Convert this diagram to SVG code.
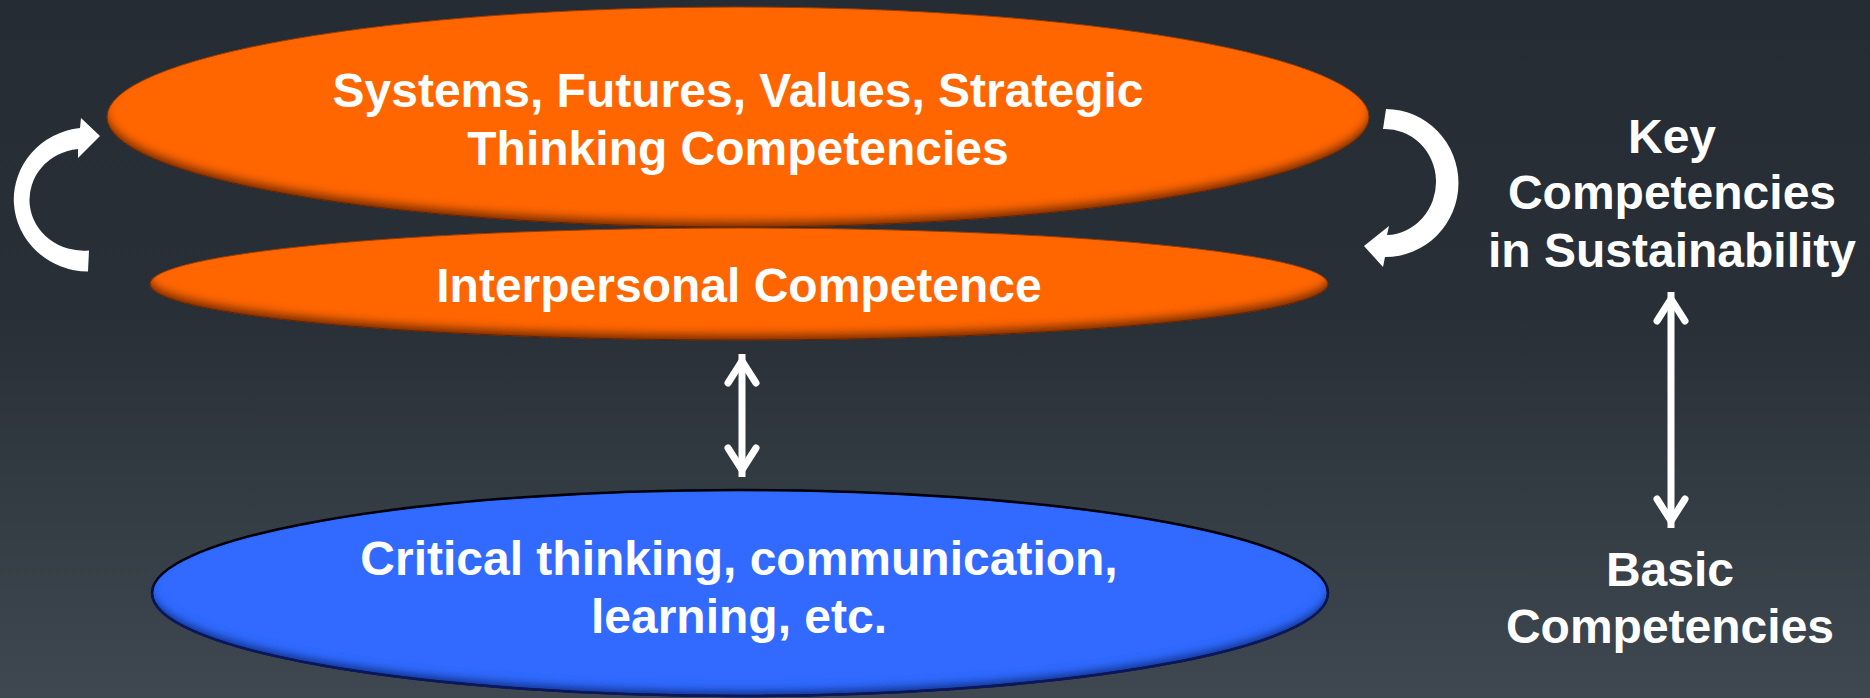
<svg xmlns="http://www.w3.org/2000/svg" width="1870" height="698" viewBox="0 0 1870 698">
  <defs>
    <linearGradient id="bg" x1="0" y1="0" x2="0" y2="1">
      <stop offset="0" stop-color="#252c34"/>
      <stop offset="0.45" stop-color="#282f37"/>
      <stop offset="1" stop-color="#3f4850"/>
    </linearGradient>
    <!-- soft inner shade along the lower rim of each ellipse -->
    <filter id="shadeOrange" x="-5%" y="-10%" width="110%" height="120%">
      <feGaussianBlur in="SourceAlpha" stdDeviation="4" result="b"/>
      <feOffset in="b" dy="-7" result="o"/>
      <feComposite in="SourceAlpha" in2="o" operator="out" result="edge"/>
      <feFlood flood-color="#4a1d00" flood-opacity="0.85"/>
      <feComposite in2="edge" operator="in" result="shade"/>
      <feMerge><feMergeNode in="SourceGraphic"/><feMergeNode in="shade"/></feMerge>
    </filter>
    <filter id="shadeBlue" x="-5%" y="-10%" width="110%" height="120%">
      <feGaussianBlur in="SourceAlpha" stdDeviation="4" result="b"/>
      <feOffset in="b" dy="-7" result="o"/>
      <feComposite in="SourceAlpha" in2="o" operator="out" result="edge"/>
      <feFlood flood-color="#0a1d66" flood-opacity="0.85"/>
      <feComposite in2="edge" operator="in" result="shade"/>
      <feMerge><feMergeNode in="SourceGraphic"/><feMergeNode in="shade"/></feMerge>
    </filter>
    <marker id="vhead" viewBox="-40 -24 46 48" markerWidth="46" markerHeight="48" refX="0" refY="0" markerUnits="userSpaceOnUse" orient="auto-start-reverse" overflow="visible">
      <path d="M -29 -14 L -7 0 L -29 14" fill="none" stroke="#ffffff" stroke-width="7" stroke-linecap="round" stroke-linejoin="miter"/>
    </marker>
    <style>
      .lbl { font-family: "Liberation Sans", Arial, sans-serif; font-weight: bold; font-size: 48px; fill: #ffffff; text-anchor: middle; }
      .orange { fill: #ff6600; stroke: #9a3e00; stroke-width: 1; filter: url(#shadeOrange); }
      .blue { fill: #306bff; stroke: #000000; stroke-width: 2.5; filter: url(#shadeBlue); }
      .link { stroke: #ffffff; stroke-width: 7; fill: none; marker-start: url(#vhead); marker-end: url(#vhead); }
      .cycle { fill: #ffffff; }
    </style>
  </defs>

  <rect x="0" y="0" width="1870" height="698" fill="url(#bg)"/>

  <g id="interpersonal">
    <ellipse class="orange" cx="739" cy="284" rx="589" ry="56"/>
    <text class="lbl" x="739" y="302">Interpersonal Competence</text>
  </g>

  <g id="thinking">
    <ellipse class="orange" cx="738" cy="117" rx="631" ry="110"/>
    <text class="lbl" x="738" y="107">Systems, Futures, Values, Strategic</text>
    <text class="lbl" x="738" y="165">Thinking Competencies</text>
  </g>

  <g id="basic-skills">
    <ellipse class="blue" cx="740" cy="593" rx="588" ry="103"/>
    <text class="lbl" x="739" y="575">Critical thinking, communication,</text>
    <text class="lbl" x="739" y="633">learning, etc.</text>
  </g>

  <g id="key-label">
    <text class="lbl" x="1672" y="153">Key</text>
    <text class="lbl" x="1672" y="209">Competencies</text>
    <text class="lbl" x="1672" y="267">in Sustainability</text>
  </g>

  <g id="basic-label">
    <text class="lbl" x="1670" y="586">Basic</text>
    <text class="lbl" x="1670" y="643">Competencies</text>
  </g>

  <g id="connectors">
    <line class="link" x1="742" y1="354" x2="742" y2="477"/>
    <line class="link" x1="1671" y1="292" x2="1671" y2="528"/>
    <!-- curved cycle arrows on either side of the orange pair -->
    <path class="cycle" d="M 88 271.5 A 75 72 0 0 1 80 128 L 81 118 L 100 136 L 78 158 L 78 149 A 54 51 0 0 0 89 250.5 Z"/>
    <path class="cycle" d="M 1386 109 A 73 74 0 0 1 1385 257 L 1383 267 L 1364 246 L 1389 226 L 1387 235 A 51 53 0 0 0 1383 129 Z"/>
  </g>
</svg>
